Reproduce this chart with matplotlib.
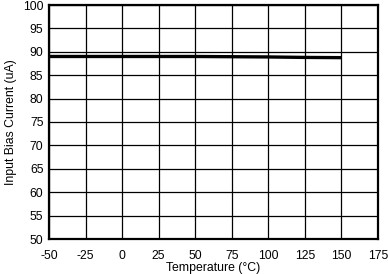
import numpy as np
import matplotlib
matplotlib.use("Agg")
import matplotlib.pyplot as plt

plt.rcParams['font.family'] = ['Liberation Sans', 'DejaVu Sans']
plt.rcParams['axes.unicode_minus'] = False

# data
temps = [-50, -25, 0, 25, 50, 75, 100, 125, 150]
ibias = [89.0, 89.0, 89.0, 89.0, 89.0, 88.95, 88.9, 88.8, 88.75]

xticks = np.arange(-50, 176, 25)
yticks = np.arange(50, 101, 5)

fig = plt.figure(figsize=(3.88, 2.74), dpi=100)
ax = fig.add_axes([49 / 388, 1 - 239 / 274, 329 / 388, 234 / 274])

ax.plot(temps, ibias, color="black", lw=2.4, solid_capstyle="butt")

ax.set_xlim(-50, 175)
ax.set_ylim(50, 100)
ax.set_xticks(xticks)
ax.set_yticks(yticks)
ax.tick_params(length=0, labelsize=8.8)
ax.tick_params(axis="x", pad=8)
ax.tick_params(axis="y", pad=4)
ax.grid(True, color="black", lw=0.9)
ax.set_axisbelow(True)
for s in ax.spines.values():
    s.set_linewidth(1.6)

ax.set_xlabel("Temperature (°C)", fontsize=8.8, labelpad=0)
ax.set_ylabel("Input Bias Current (uA)", fontsize=8.8, labelpad=4)

fig.savefig("out.png", dpi=100)
